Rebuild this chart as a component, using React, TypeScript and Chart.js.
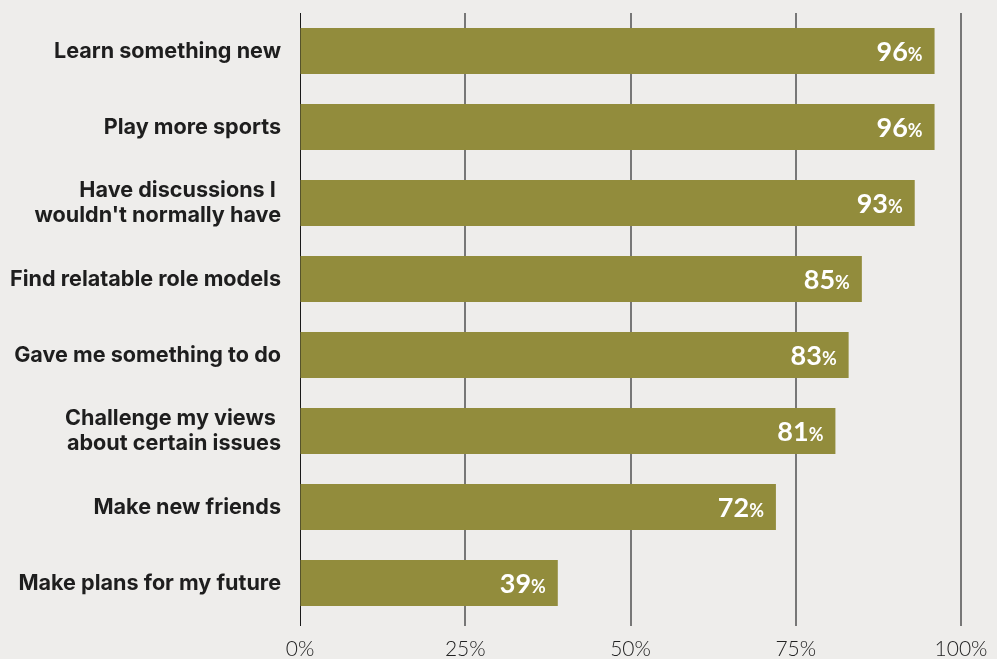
import React, { useEffect, useRef } from "react";
import { Chart, registerables } from "chart.js";

Chart.register(...registerables);

const categories: (string | string[])[] = [
  "Learn something new",
  "Play more sports",
  ["Have discussions I ", "wouldn't normally have"],
  "Find relatable role models",
  "Gave me something to do",
  ["Challenge my views ", "about certain issues"],
  "Make new friends",
  "Make plans for my future",
];
const values: number[] = [96, 96, 93, 85, 83, 81, 72, 39];
const tickValues: number[] = [0, 25, 50, 75, 100];

const BG = "#eeedeb";
const BAR = "#928c3c";

const valueLabelPlugin = {
  id: "valueLabels",
  afterDatasetsDraw(chart: any) {
    const ctx = chart.ctx;
    const meta = chart.getDatasetMeta(0);
    ctx.save();
    ctx.fillStyle = "#ffffff";
    ctx.textBaseline = "alphabetic";
    ctx.textAlign = "right";
    meta.data.forEach((bar: any, i: number) => {
      const v = values[i];
      const xRight = bar.x - 12;
      const baseY = bar.y + 9.5;
      ctx.font = "bold 18px Lato";
      const pw = ctx.measureText("%").width;
      ctx.fillText("%", xRight, baseY);
      ctx.font = "bold 27px Lato";
      ctx.fillText(String(v), xRight - pw, baseY);
    });
    ctx.restore();
  },
};

export default function App() {
  const ref = useRef<HTMLCanvasElement | null>(null);
  useEffect(() => {
    document.body.style.margin = "0";
    document.body.style.background = BG;
    if (!ref.current) return;
    const chart = new Chart(ref.current, {
      type: "bar",
      data: {
        labels: categories,
        datasets: [
          {
            data: values,
            backgroundColor: BAR,
            borderWidth: 0,
            categoryPercentage: 1,
            barPercentage: 46 / 76,
          },
        ],
      },
      options: {
        indexAxis: "y",
        animation: false,
        responsive: false,
        maintainAspectRatio: false,
        layout: { padding: { top: 13, right: 36, left: 0, bottom: 0 } },
        plugins: {
          legend: { display: false },
          tooltip: { enabled: false },
          title: { display: false },
        },
        scales: {
          x: {
            min: 0,
            max: 100,
            afterBuildTicks: (s: any) => {
              s.ticks = tickValues.map((v) => ({ value: v }));
            },
            afterFit: (s: any) => {
              s.height = 38;
              s.paddingLeft = 0;
              s.paddingRight = 0;
            },
            border: { display: false },
            grid: {
              drawOnChartArea: true,
              drawTicks: true,
              tickLength: 5,
              color: (c: any) => (c.index === 0 ? "#1a1a1a" : "#777777"),
              lineWidth: (c: any) => (c.index === 0 ? 1 : 2),
            },
            ticks: {
              padding: 11,
              color: "#222222",
              font: { family: "Lato", size: 21, weight: "300" },
              callback: (v: any) => v + "%",
            },
          },
          y: {
            afterFit: (s: any) => {
              s.width = 300;
              s.paddingTop = 0;
              s.paddingBottom = 0;
            },
            border: { display: false },
            grid: { display: false, drawTicks: false },
            ticks: {
              padding: 19,
              color: "#1e1e1e",
              font: { family: "Inter", size: 21.6, weight: "700", lineHeight: 1.12 },
            },
          },
        },
      },
      plugins: [valueLabelPlugin],
    });
    return () => chart.destroy();
  }, []);
  return (
    <div style={{ width: 997, height: 659, background: BG }}>
      <canvas ref={ref} width={997} height={659} style={{ display: "block" }} />
    </div>
  );
}
